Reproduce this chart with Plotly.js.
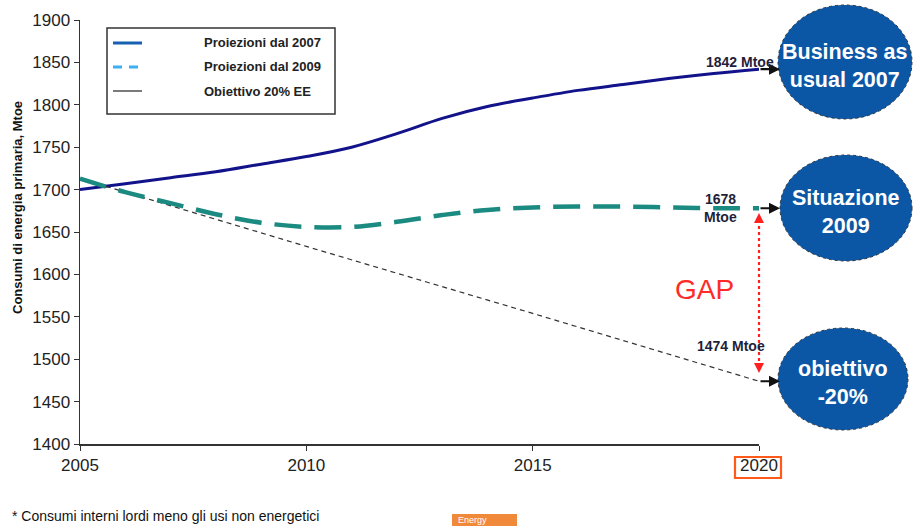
<!DOCTYPE html>
<html>
<head>
<meta charset="utf-8">
<script src="https://cdn.plot.ly/plotly-3.0.1.min.js"></script>
<style>html,body{margin:0;padding:0;background:#fff;}#chart{width:913px;height:526px;}</style>
</head>
<body>
<div id="chart"></div>
<script>
// ---- data ----
const years = [2005,2006,2007,2008,2009,2010,2011,2012,2013,2014,2015,2016,2017,2018,2019,2020];
const proiezioni2007 = [1700,1707,1714,1721,1730,1739,1750,1766,1784,1798,1808,1817,1824,1831,1837,1842];
const proiezioni2009 = [1713,1697,1684,1671,1661,1656,1656,1662,1670,1676,1679,1680,1680,1679,1678,1678];
const obiettivoYears = [2005,2010,2015,2020];
const obiettivo = [1713,1633,1554,1474];
const yTicks = [1400,1450,1500,1550,1600,1650,1700,1750,1800,1850,1900];
const xTicks = [2005,2010,2015,2020];
const legendLabels = ['Proiezioni dal 2007','Proiezioni dal 2009','Obiettivo 20% EE'];

// ---- layout helpers (pixel -> paper) ----
const W=913,H=526,ML=80,MR=154,MT=20,MB=82;
const PW=W-ML-MR, PH=H-MT-MB;
const px=x=>(x-ML)/PW, py=y=>(H-MB-y)/PH;
const FAM='Liberation Sans, Arial, sans-serif';

const traces = [
  {x:years,y:proiezioni2007,mode:'lines',line:{color:'#12128a',width:3,shape:'spline'},showlegend:false,hoverinfo:'skip'},
  {x:obiettivoYears,y:obiettivo,mode:'lines',line:{color:'#333',width:1.2,dash:'5px,4px'},showlegend:false,hoverinfo:'skip'},
  {x:years,y:proiezioni2009,mode:'lines',line:{color:'#1b8a80',width:4.5,shape:'spline',dash:'27px,13px'},showlegend:false,hoverinfo:'skip'}
];

const shapes = [];
const annotations = [];
function txt(x,y,t,font,extra){
  annotations.push(Object.assign({xref:'paper',yref:'paper',x:px(x),y:py(y),xanchor:'center',yanchor:'middle',showarrow:false,text:t,font:font},extra||{}));
}

// legend box
shapes.push({type:'rect',xref:'paper',yref:'paper',x0:px(107),x1:px(335),y0:py(28),y1:py(114),line:{color:'#333',width:1.5},fillcolor:'rgba(255,255,255,0)'});
const legStyles=[{color:'#1560b0',width:3},{color:'#3cb0f0',width:3,dash:'9px,7px'},{color:'#222',width:1.2}];
const legY=[43,67,91];
legendLabels.forEach((t,i)=>{
  shapes.push({type:'line',xref:'paper',yref:'paper',x0:px(113),x1:px(142),y0:py(legY[i]),y1:py(legY[i]),line:legStyles[i]});
  txt(202,legY[i],t,{family:FAM,size:13,color:'#222',weight:'bold'},{xanchor:'left'});
});

// ellipses
const ell=[{cx:845,cy:62,rx:67,ry:57,t:'Business as<br>usual 2007'},{cx:846,cy:208,rx:66,ry:53,t:'Situazione<br>2009'},{cx:843,cy:379,rx:65,ry:51,t:'obiettivo<br>-20%'}];
ell.forEach(e=>{
  shapes.push({type:'circle',xref:'paper',yref:'paper',x0:px(e.cx-e.rx),x1:px(e.cx+e.rx),y0:py(e.cy+e.ry),y1:py(e.cy-e.ry),fillcolor:'#0b57a6',line:{color:'#333',width:1,dash:'dot'}});
  txt(e.cx,e.cy+4,'<b>'+e.t+'</b>',{family:FAM,size:21.5,color:'#fff'});
});

// black arrows to ellipses
[proiezioni2007[15],proiezioni2009[15],obiettivo[3]].forEach(v=>{
  annotations.push({x:px(780),y:v,xref:'paper',yref:'y',ax:-21,ay:0,showarrow:true,arrowhead:2,arrowsize:1,arrowwidth:2.2,arrowcolor:'#111',text:''});
});

// value labels
const lab={family:FAM,size:14,color:'#1f1f3a',weight:'bold'};
txt(740,62,'1842 Mtoe',lab);
txt(720,199,'1678',lab);
txt(720,217,'Mtoe',lab);
txt(731,346,'1474 Mtoe',lab);

// GAP
txt(704,289,'GAP',{family:FAM,size:28,color:'#ff2a2a'});
shapes.push({type:'line',xref:'paper',yref:'paper',x0:px(759),x1:px(759),y0:py(220),y1:py(366),line:{color:'#ff2020',width:2.2,dash:'dot'}});
annotations.push({xref:'paper',yref:'paper',x:px(759),y:py(213),ax:0,ay:10,showarrow:true,arrowhead:2,arrowsize:1,arrowwidth:2,arrowcolor:'#ff2020',text:''});
annotations.push({xref:'paper',yref:'paper',x:px(759),y:py(373),ax:0,ay:-10,showarrow:true,arrowhead:2,arrowsize:1,arrowwidth:2,arrowcolor:'#ff2020',text:''});

// y title
txt(17,208,'Consumi di energia primaria, Mtoe',{family:FAM,size:13,color:'#111',weight:'bold'},{textangle:-90});

// orange box around 2020
shapes.push({type:'rect',xref:'paper',yref:'paper',x0:px(735),x1:px(781),y0:py(478),y1:py(457),line:{color:'#ff5a1a',width:2.2}});

// footnote
txt(10,516,'* Consumi interni lordi meno gli usi non energetici',{family:FAM,size:14,color:'#111'},{xanchor:'left'});
shapes.push({type:'rect',xref:'paper',yref:'paper',x0:px(452),x1:px(517),y0:py(526),y1:py(514),fillcolor:'#f08a3a',line:{width:0}});
txt(456,520,'Energy',{family:FAM,size:9,color:'#fff'},{xanchor:'left'});

const layout = {
  width:W,height:H,margin:{l:ML,r:MR,t:MT,b:MB},
  paper_bgcolor:'#fff',plot_bgcolor:'#fff',showlegend:false,
  font:{family:FAM,color:'#222'},
  xaxis:{range:[2005,2020],tickvals:xTicks,ticktext:xTicks.map(String),showgrid:false,zeroline:false,showline:true,linecolor:'#333',linewidth:1.5,ticks:'outside',ticklen:5,tickcolor:'#333',tickfont:{size:17,color:'#222'}},
  yaxis:{range:[1400,1900],tickvals:yTicks,ticktext:yTicks.map(String),showgrid:false,zeroline:false,showline:true,linecolor:'#333',linewidth:1.5,ticks:'outside',ticklen:5,tickcolor:'#333',tickfont:{size:17,color:'#222'}},
  shapes:shapes,annotations:annotations
};
Plotly.newPlot('chart',traces,layout,{staticPlot:true,displayModeBar:false});
</script>
</body>
</html>
